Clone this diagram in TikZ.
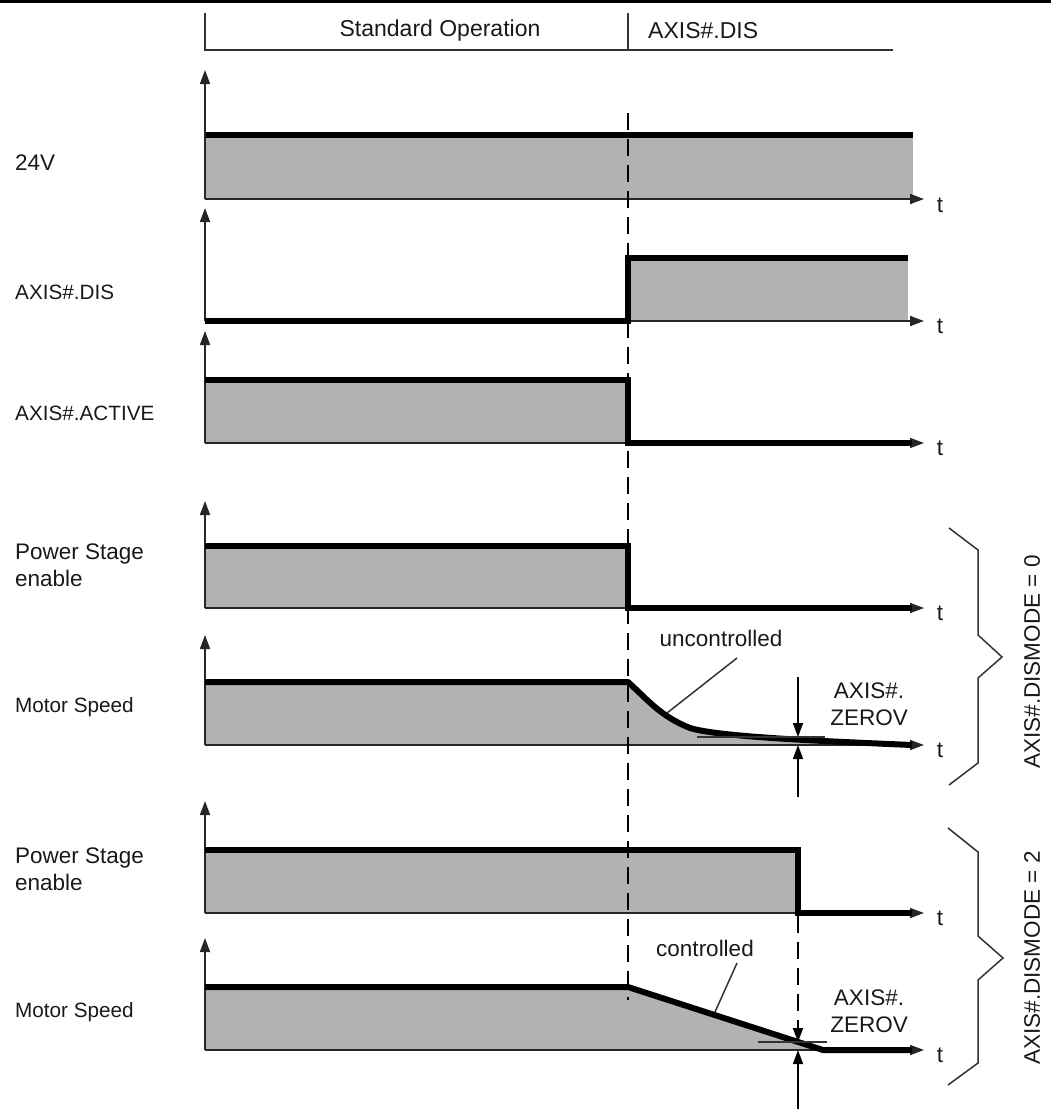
\documentclass[tikz,border=0pt]{standalone}
\usepackage{fontspec}
\setmainfont{Liberation Sans}
\usetikzlibrary{arrows.meta}
\begin{document}
\begin{tikzpicture}[x=1pt,y=-1pt,
  sigline/.style={line width=6pt,line join=miter,line cap=butt},
  axisline/.style={line width=1.6pt,black!85,-{Triangle[length=14pt,width=10pt]}},
  thinline/.style={line width=1.5pt,black!80},
  gfill/.style={fill=black!30,draw=none},
  dashline/.style={line width=1.8pt,dash pattern=on 17pt off 9pt},
  lbl/.style={font=\fontsize{22.5}{27}\selectfont,inner sep=0pt,text=black!90},
  slbl/.style={lbl,font=\fontsize{20.7}{26}\selectfont},
  hlbl/.style={lbl,font=\fontsize{23}{27}\selectfont},
  ptr/.style={line width=1.5pt,-{Triangle[length=14pt,width=10pt]}}]
\useasboundingbox (0,0) rectangle (1051,1109);
\fill[black] (0,0) rectangle (1051,3);
% header
\draw[thinline] (205,13) -- (205,50) -- (893,50);
\draw[thinline] (628,13) -- (628,50);
\node[hlbl] (hstd) at (440,31) {Standard Operation};
\node[hlbl,anchor=west] (hdis) at (648,31) {AXIS\#.DIS};
% ---------- panel 1: 24V
\fill[gfill] (205,135) rectangle (913,199);
\draw[sigline] (205,135) -- (913,135);
\draw[axisline] (205,199) -- (205,70);
\draw[axisline] (205,199) -- (924,199);
\node[lbl,anchor=west] (l1) at (15,163) {24V};
\node[lbl] (t1) at (940,205) {t};
% ---------- panel 2: AXIS#.DIS
\fill[gfill] (628,258) rectangle (908,321);
\draw[axisline] (205,321) -- (205,208);
\draw[axisline] (205,321) -- (924,321);
\draw[sigline] (205,321) -- (628,321) -- (628,258) -- (908,258);
\node[slbl,anchor=west] (l2) at (15,292) {AXIS\#.DIS};
\node[lbl] (t2) at (940,326) {t};
% ---------- panel 3: AXIS#.ACTIVE
\fill[gfill] (205,380) rectangle (628,443);
\draw[axisline] (205,443) -- (205,331);
\draw[axisline] (205,443) -- (924,443);
\draw[sigline] (205,380) -- (628,380) -- (628,443) -- (912,443);
\node[slbl,anchor=west] (l3) at (15,413) {AXIS\#.ACTIVE};
\node[lbl] (t3) at (940,448) {t};
% ---------- panel 4: Power Stage enable (DISMODE 0)
\fill[gfill] (205,546) rectangle (628,608);
\draw[axisline] (205,608) -- (205,501);
\draw[axisline] (205,608) -- (924,608);
\draw[sigline] (205,546) -- (628,546) -- (628,608) -- (912,608);
\node[lbl,anchor=west,align=left] (l4) at (15,565) {Power Stage\\enable};
\node[lbl] (t4) at (940,613) {t};
% ---------- panel 5: Motor Speed uncontrolled
\fill[gfill] (205,682) -- (628,682) .. controls (648,700) and (660,716) .. (690,728)
  .. controls (720,737) and (820,741) .. (910,745) -- (205,745) -- cycle;
\draw[axisline] (205,745) -- (205,635);
\draw[axisline] (205,745) -- (924,745);
\draw[sigline,line join=round] (205,682) -- (628,682) .. controls (648,700) and (660,716) .. (690,728)
  .. controls (720,737) and (820,741) .. (912,745);
\draw[thinline] (697,737) -- (825,737);
\draw[ptr] (798,677) -- (798,737);
\draw[ptr] (798,797) -- (798,745);
\node[lbl,align=center] (z1) at (869,704) {AXIS\#.\\ZEROV};
\node[lbl] (unc) at (721,638) {uncontrolled};
\draw[thinline] (737,658) -- (667,713);
\node[slbl,anchor=west] (l5) at (15,707) {Motor Speed};
\node[lbl] (t5) at (940,750) {t};
% ---------- panel 6: Power Stage enable (DISMODE 2)
\fill[gfill] (205,850) rectangle (798,913);
\draw[axisline] (205,913) -- (205,801);
\draw[axisline] (205,913) -- (924,913);
\draw[sigline] (205,850) -- (798,850) -- (798,913) -- (912,913);
\node[lbl,anchor=west,align=left] (l6) at (15,869) {Power Stage\\enable};
\node[lbl] (t6) at (940,918) {t};
% ---------- panel 7: Motor Speed controlled
\fill[gfill] (205,987) -- (628,987) -- (823,1050) -- (205,1050) -- cycle;
\draw[axisline] (205,1050) -- (205,938);
\draw[axisline] (205,1050) -- (924,1050);
\draw[sigline] (205,987) -- (628,987) -- (823,1050) -- (912,1050);
\draw[thinline] (758,1042) -- (827,1042);
\draw[dashline,-{Triangle[length=14pt,width=10pt]}] (798,916) -- (798,1042);
\draw[ptr] (798,1109) -- (798,1050);
\node[lbl,align=center] (z2) at (869,1011) {AXIS\#.\\ZEROV};
\node[lbl] (con) at (705,948) {controlled};
\draw[thinline] (737,963) -- (715,1012);
\node[slbl,anchor=west] (l7) at (15,1012) {Motor Speed};
\node[lbl] (t7) at (940,1055) {t};
% main dashed line
\draw[dashline] (628,113) -- (628,1000);
% braces
\draw[thinline] (949,528) -- (978,550) -- (978,635) -- (1002,657) -- (978,678) -- (978,763) -- (949,785);
\draw[thinline] (948,828) -- (978,852) -- (978,936) -- (1003,958) -- (978,980) -- (978,1063) -- (948,1085);
\node[lbl,rotate=90] (m0) at (1032,662) {AXIS\#.DISMODE = 0};
\node[lbl,rotate=90] (m2) at (1032,958) {AXIS\#.DISMODE = 2};
\end{tikzpicture}
\end{document}
